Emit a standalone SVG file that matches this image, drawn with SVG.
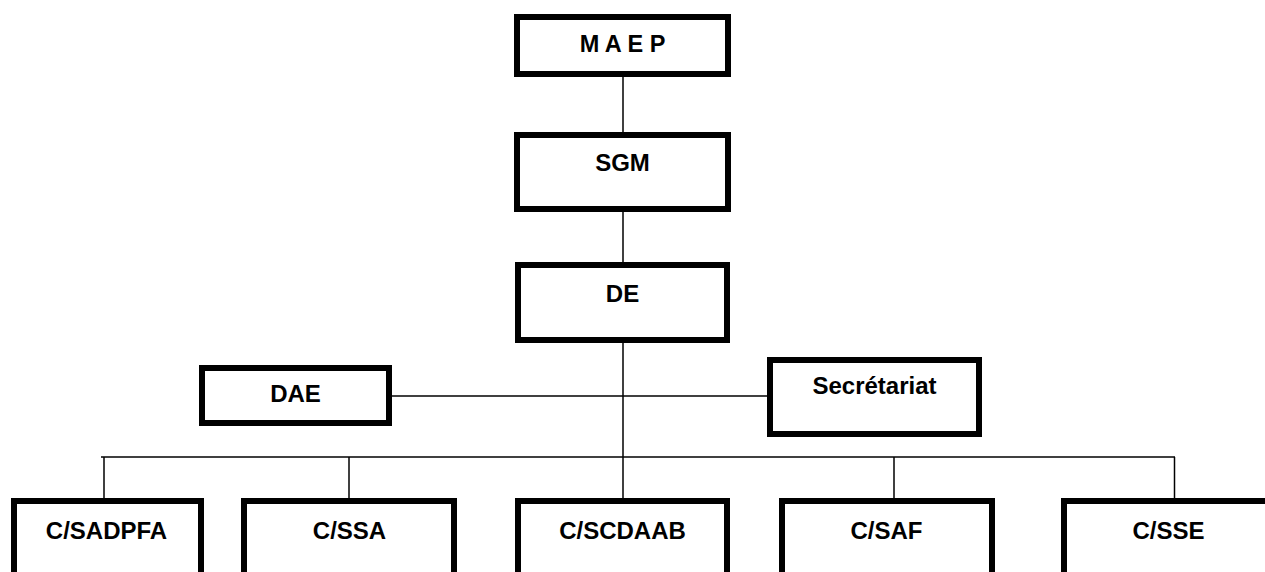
<svg xmlns="http://www.w3.org/2000/svg" width="1265" height="572" viewBox="0 0 1265 572">
  <style>
    .box { fill: #ffffff; stroke: #000000; stroke-width: 6; }
    .lbl { font-family: "Liberation Sans", Arial, sans-serif; font-weight: bold; font-size: 24px; fill: #000000; text-anchor: middle; }
    .wire { fill: none; stroke: #000000; stroke-width: 1.5; }
  </style>
  <rect width="1265" height="572" fill="#ffffff"/>

  <!-- connectors -->
  <g id="connectors">
    <line class="wire" x1="623" y1="77" x2="623" y2="132"/>
    <line class="wire" x1="623" y1="212" x2="623" y2="262"/>
    <line class="wire" x1="623" y1="343" x2="623" y2="457"/>
    <line class="wire" x1="392" y1="396" x2="767" y2="396"/>
    <line class="wire" x1="101" y1="457" x2="1175" y2="457"/>
    <line class="wire" x1="104" y1="457" x2="104" y2="498"/>
    <line class="wire" x1="349" y1="457" x2="349" y2="498"/>
    <line class="wire" x1="623" y1="457" x2="623" y2="498"/>
    <line class="wire" x1="894" y1="457" x2="894" y2="498"/>
    <line class="wire" x1="1174.5" y1="457" x2="1174.5" y2="498"/>
  </g>

  <g id="maep">
    <rect class="box" x="517" y="17" width="211" height="57"/>
    <text class="lbl" x="622.5" y="52" style="font-size:23.5px">M A E P</text>
  </g>

  <g id="sgm">
    <rect class="box" x="517" y="135" width="211" height="74"/>
    <text class="lbl" x="622.5" y="170.5">SGM</text>
  </g>

  <g id="de">
    <rect class="box" x="518" y="265" width="209" height="75"/>
    <text class="lbl" x="622.5" y="302">DE</text>
  </g>

  <g id="dae">
    <rect class="box" x="202" y="368" width="187" height="55"/>
    <text class="lbl" x="295.5" y="402">DAE</text>
  </g>

  <g id="secretariat">
    <rect class="box" x="770" y="360" width="209" height="74"/>
    <text class="lbl" x="874.5" y="393.5">Secrétariat</text>
  </g>

  <g id="c-sadpfa">
    <rect class="box" x="14" y="501" width="187" height="100"/>
    <text class="lbl" x="106.5" y="538.5">C/SADPFA</text>
  </g>

  <g id="c-ssa">
    <rect class="box" x="244" y="501" width="210" height="100"/>
    <text class="lbl" x="349.5" y="538.5">C/SSA</text>
  </g>

  <g id="c-scdaab">
    <rect class="box" x="518" y="501" width="209" height="100"/>
    <text class="lbl" x="622.5" y="538.5">C/SCDAAB</text>
  </g>

  <g id="c-saf">
    <rect class="box" x="782" y="501" width="210" height="100"/>
    <text class="lbl" x="886.5" y="538.5">C/SAF</text>
  </g>

  <g id="c-sse">
    <rect class="box" x="1064" y="501" width="230" height="100"/>
    <text class="lbl" x="1168.5" y="538.5">C/SSE</text>
  </g>
</svg>
